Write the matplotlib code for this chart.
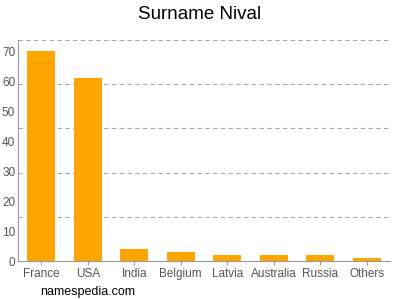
import matplotlib
matplotlib.use('Agg')
import matplotlib.pyplot as plt
import numpy as np

plt.rcParams['font.family'] = ['Liberation Sans', 'DejaVu Sans']

# chart data
countries = ['France', 'USA', 'India', 'Belgium', 'Latvia', 'Australia', 'Russia', 'Others']
counts = [70, 61, 4, 3, 2, 2, 2, 1]
yticks = [0, 10, 20, 30, 40, 50, 60, 70]

fig = plt.figure(figsize=(4, 3), dpi=100)
ax = fig.add_axes([0.045, 0.13, 0.93, 0.737])

x = np.arange(len(countries))
ax.bar(x, counts, width=0.6, color='#FFA500', zorder=2)

ymax = 73.7
ax.set_ylim(0, ymax)
ax.set_xlim(-0.5, len(countries) - 0.5)

# dashed grid lines split the axis height in five
for g in np.linspace(0, ymax, 6)[1:]:
    ax.axhline(g, color='#aaaaaa', linestyle=(0, (4, 3)), linewidth=0.8, zorder=1)

ax.set_yticks(yticks)
ax.set_xticks(x)
ax.set_xticklabels(countries)
ax.tick_params(axis='both', labelsize=8.5, labelcolor='#555555', color='#999999')
ax.tick_params(axis='y', length=0, pad=2)
ax.tick_params(axis='x', length=3, pad=2)

for side in ['top', 'right']:
    ax.spines[side].set_visible(False)
for side in ['left', 'bottom']:
    ax.spines[side].set_color('#999999')

fig.text(0.5, 0.953, 'Surname Nival', ha='center', va='center', fontsize=13.5)
fig.text(0.1, 0.028, 'namespedia.com', ha='left', va='center', fontsize=9)

plt.savefig('out.png', dpi=100)
